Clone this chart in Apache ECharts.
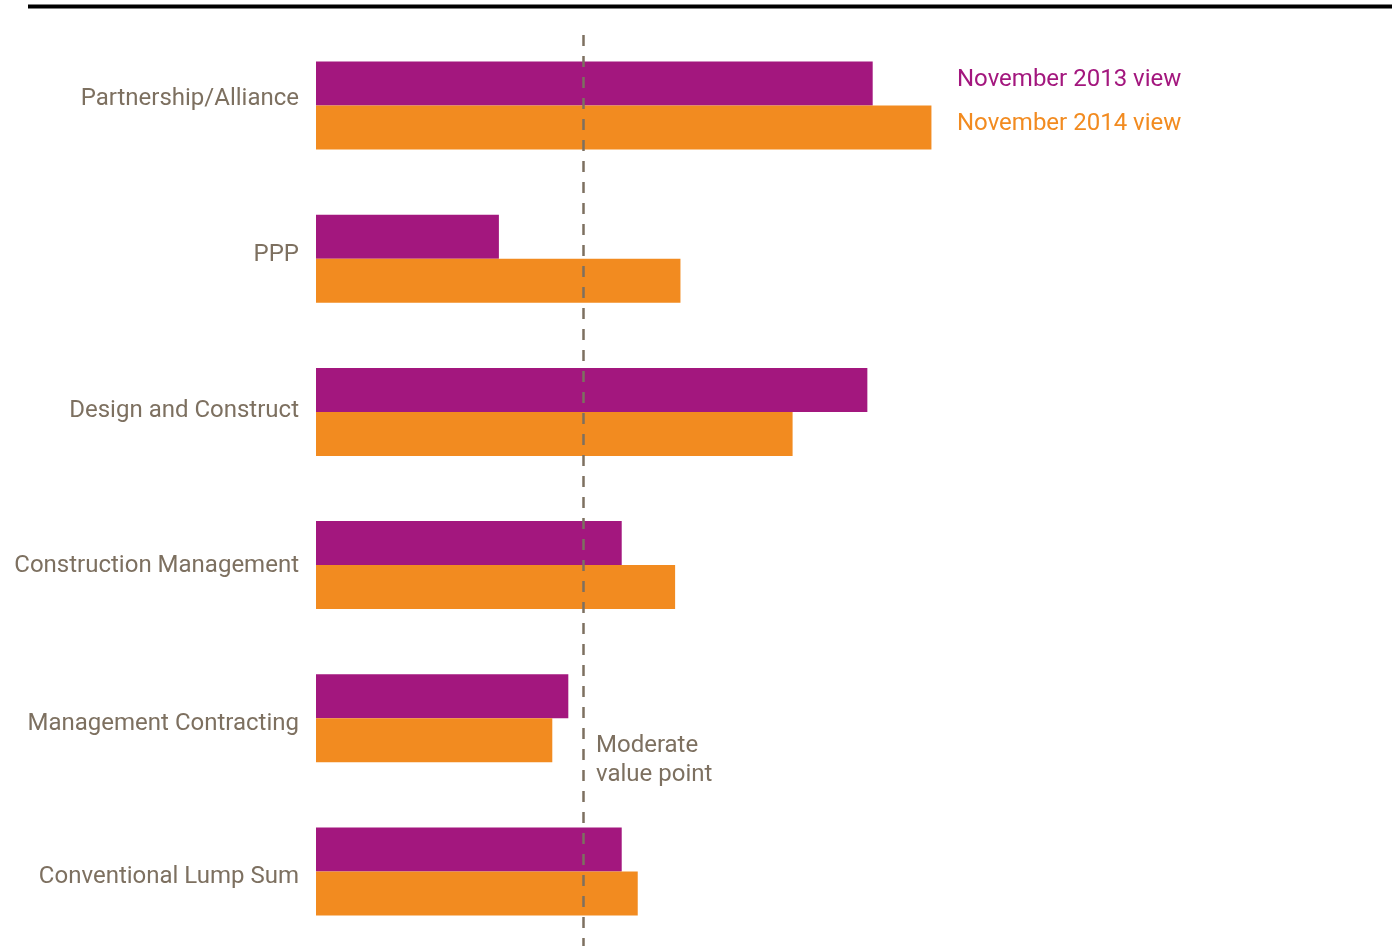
<!DOCTYPE html>
<html>
<head>
<meta charset="utf-8">
<title>Procurement models</title>
<script src="https://cdn.jsdelivr.net/npm/echarts@6/dist/echarts.min.js"></script>
<style>
	html, body { margin: 0; padding: 0; background: #fff; }
	#chart { width: 1397px; height: 946px; }
</style>
</head>
<body>
<div id="chart"></div>
<script>
// categories, top to bottom
const categories = [
	'Partnership/Alliance',
	'PPP',
	'Design and Construct',
	'Construction Management',
	'Management Contracting',
	'Conventional Lump Sum'
];

const seriesNames = ['November 2013 view', 'November 2014 view'];

// values (moderate value point = 2)
const view2013 = [4.17, 1.37, 4.13, 2.29, 1.89, 2.29];
const view2014 = [4.61, 2.73, 3.57, 2.69, 1.77, 2.41];

const moderateValue = 2;
const moderateLabel = 'Moderate\nvalue point';

// small vertical nudge of each axis label (px, negative = up), as in the original layout
const labelNudge = [-7, -4, -1, 1, 6, 5];

const PURPLE = '#a3177e';
const ORANGE = '#f28b20';
const TEXT = '#7d7060';
const FONT = 'Roboto, "Noto Sans", sans-serif';
const FS = 24;

const richLabels = {};
labelNudge.forEach(function (s, i) {
	richLabels['r' + i] = {
		color: TEXT,
		fontSize: FS,
		fontFamily: FONT,
		padding: s < 0 ? [0, 0, -2 * s, 0] : [2 * s, 0, 0, 0]
	};
});

const chart = echarts.init(document.getElementById('chart'));

chart.setOption({
	animation: false,
	textStyle: { fontFamily: FONT },
	legend: {
		orient: 'vertical',
		left: 947,
		top: 63,
		itemWidth: 0,
		itemHeight: 0,
		itemGap: 20,
		icon: 'rect',
		selectedMode: false,
		data: seriesNames,
		formatter: function (name) {
			return name === seriesNames[0] ? '{a|' + name + '}' : '{b|' + name + '}';
		},
		textStyle: {
			fontFamily: FONT,
			fontSize: FS,
			rich: {
				a: { color: PURPLE, fontSize: FS, fontFamily: FONT },
				b: { color: ORANGE, fontSize: FS, fontFamily: FONT }
			}
		}
	},
	// category centres sit on the grid edges (boundaryGap false)
	grid: {
		left: 316,
		top: 105.5,
		width: 1068,
		height: 766,
		containLabel: false
	},
	xAxis: {
		type: 'value',
		min: 0,
		max: 8,
		show: false
	},
	yAxis: {
		type: 'category',
		inverse: true,
		boundaryGap: false,
		data: categories,
		axisLine: { show: false },
		axisTick: { show: false },
		splitLine: { show: false },
		axisLabel: {
			color: TEXT,
			fontSize: FS,
			fontFamily: FONT,
			margin: 17,
			formatter: function (value, idx) {
				return '{r' + idx + '|' + value + '}';
			},
			rich: richLabels
		}
	},
	graphic: [{
		type: 'line',
		shape: { x1: 28, y1: 6.5, x2: 1392, y2: 6.5 },
		style: { stroke: '#000', lineWidth: 4 },
		silent: true
	}],
	series: [
		{
			name: seriesNames[0],
			type: 'bar',
			data: view2013,
			barWidth: 44,
			barGap: '0%',
			clip: false,
			itemStyle: { color: PURPLE },
			markLine: {
				silent: true,
				symbol: 'none',
				lineStyle: { color: TEXT, type: [11, 10], width: 2.5 },
				label: { show: false },
				data: [[
					{ coord: [moderateValue, 0], y: 35 },
					{ coord: [moderateValue, 0], y: 946 }
				]]
			},
			z: 2
		},
		{
			name: seriesNames[1],
			type: 'bar',
			data: view2014,
			barWidth: 44,
			clip: false,
			itemStyle: { color: ORANGE },
			z: 2
		},
		{
			// annotation of the moderate value point
			type: 'scatter',
			data: [[moderateValue, categories[4]]],
			symbolSize: 0,
			silent: true,
			itemStyle: { opacity: 1 },
			label: {
				show: true,
				position: 'right',
				offset: [8, 42],
				formatter: moderateLabel,
				color: TEXT,
				fontSize: FS,
				lineHeight: 29,
				fontFamily: FONT,
				align: 'left'
			},
			z: 3
		}
	]
});
</script>
</body>
</html>
